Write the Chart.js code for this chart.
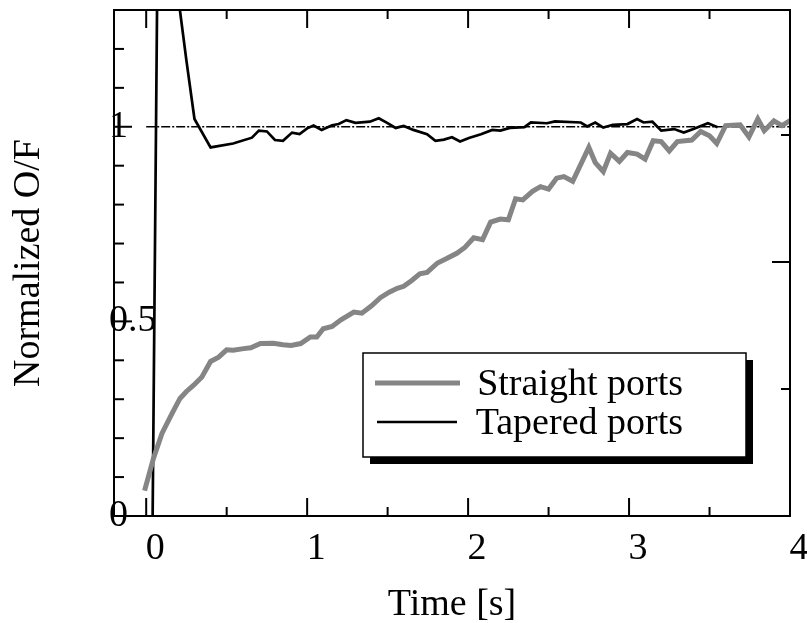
<!doctype html>
<html>
<head>
<meta charset="utf-8">
<title>Normalized O/F</title>
<script src="https://cdn.jsdelivr.net/npm/chart.js@4.4.1/dist/chart.umd.min.js"></script>
<style>
  body { margin: 0; background: #fff; }
  #wrap { width: 807px; height: 623px; }
</style>
</head>
<body>
<div id="wrap"><canvas id="canvas" width="807" height="623"></canvas></div>
<script>
// straight ports (grey, thick)
var straightTime = [-0.01, 0.045, 0.098, 0.16, 0.21, 0.25, 0.295, 0.346, 0.40, 0.45, 0.50, 0.54, 0.605, 0.65, 0.71,
  0.79, 0.85, 0.90, 0.96, 1.02, 1.06, 1.10, 1.155, 1.21, 1.29, 1.34, 1.40, 1.455, 1.51, 1.56, 1.60, 1.65, 1.70, 1.745,
  1.81, 1.87, 1.93, 1.98, 2.035, 2.09, 2.14, 2.20, 2.25, 2.295, 2.34, 2.40, 2.45, 2.50, 2.55, 2.595, 2.65, 2.75, 2.79,
  2.84, 2.885, 2.94, 2.99, 3.05, 3.10, 3.15, 3.20, 3.25, 3.30, 3.39, 3.445, 3.50, 3.545, 3.60, 3.69, 3.745, 3.80, 3.84,
  3.90, 3.95, 4.005];
var straightOF = [0.065, 0.148, 0.212, 0.263, 0.302, 0.32, 0.336, 0.357, 0.397, 0.408, 0.427, 0.426, 0.43, 0.432, 0.443,
  0.444, 0.44, 0.438, 0.443, 0.46, 0.46, 0.481, 0.487, 0.504, 0.524, 0.521, 0.54, 0.561, 0.575, 0.585, 0.59, 0.605, 0.622, 0.626,
  0.65, 0.662, 0.675, 0.69, 0.715, 0.71, 0.755, 0.763, 0.761, 0.815, 0.812, 0.834, 0.846, 0.84, 0.868, 0.872, 0.86, 0.947, 0.908,
  0.885, 0.932, 0.911, 0.934, 0.93, 0.917, 0.964, 0.962, 0.938, 0.962, 0.966, 0.988, 0.977, 0.957, 1.003, 1.005, 0.974, 1.02, 0.99,
  1.015, 1.003, 1.017];

// tapered ports (black, thin)
var taperedTime = [0.04, 0.08, 0.15, 0.20, 0.25, 0.30, 0.40, 0.54, 0.657, 0.70, 0.75, 0.80, 0.85, 0.906, 0.953, 1.00,
  1.04, 1.09, 1.155, 1.196, 1.244, 1.30, 1.39, 1.445, 1.497, 1.55, 1.60, 1.66, 1.745, 1.797, 1.85, 1.90, 1.95, 2.005,
  2.08, 2.15, 2.20, 2.26, 2.35, 2.39, 2.49, 2.54, 2.70, 2.74, 2.79, 2.84, 2.90, 2.99, 3.05, 3.09, 3.145, 3.20, 3.28,
  3.34, 3.40, 3.49, 3.55];
var taperedOF = [0, 1.9, 1.6, 1.33, 1.17, 1.02, 0.947, 0.957, 0.972, 0.99, 0.988, 0.966, 0.964, 0.985, 0.981, 0.996,
  1.003, 0.992, 1.004, 1.007, 1.017, 1.01, 1.013, 1.022, 1.01, 0.997, 1.002, 0.992, 0.981, 0.964, 0.967, 0.973, 0.962, 0.971,
  0.981, 0.992, 0.99, 0.997, 0.999, 1.011, 1.009, 1.014, 1.011, 1.001, 1.011, 0.998, 1.005, 1.007, 1.02, 1.011, 1.013, 0.99, 0.994,
  0.985, 0.994, 1.009, 0.999];

// reference line O/F = 1
var refTime = [0, 4];
var refOF = [1, 1];

var seriesLabels = ['Straight ports', 'Tapered ports'];

var xTickLabels = [0, 1, 2, 3, 4];
var xMinorTicks = [0.5, 1.5, 2.5, 3.5];
var yTickLabels = [0, 0.5, 1];
var yMinorTicks = [0.1, 0.2, 0.3, 0.4, 0.6, 0.7, 0.8, 0.9, 1.1, 1.2];
var rightMajorTicks = [0, 1];
var rightMinorTicks = [0.5, 1.5];

function pairs(xs, ys) {
  return xs.map(function (x, i) { return { x: x, y: ys[i] }; });
}

var FONT = '"Liberation Serif", "Times New Roman", serif';
Chart.defaults.font.family = FONT;
Chart.defaults.color = '#000';

// frame and inward ticks on all four sides
var frameTicks = {
  id: 'frameTicks',
  afterDatasetsDraw: function (chart) {
    var a = chart.chartArea, ctx = chart.ctx;
    var sx = chart.scales.x, sy = chart.scales.y, sy2 = chart.scales.y2;
    ctx.save();
    ctx.strokeStyle = '#000';
    ctx.lineWidth = 2;
    ctx.strokeRect(a.left, a.top, a.right - a.left, a.bottom - a.top);
    function seg(x1, y1, x2, y2) {
      ctx.beginPath(); ctx.moveTo(x1, y1); ctx.lineTo(x2, y2); ctx.stroke();
    }
    function xt(list, len) {
      list.forEach(function (v) {
        var p = sx.getPixelForValue(v);
        seg(p, a.bottom, p, a.bottom - len);
        seg(p, a.top, p, a.top + len);
      });
    }
    xt(xTickLabels, 18);
    xt(xMinorTicks, 9);
    yTickLabels.forEach(function (v) { var p = sy.getPixelForValue(v); seg(a.left, p, a.left + 18, p); });
    yMinorTicks.forEach(function (v) { var p = sy.getPixelForValue(v); seg(a.left, p, a.left + 10, p); });
    rightMajorTicks.forEach(function (v) { var p = sy2.getPixelForValue(v); seg(a.right, p, a.right - 18, p); });
    rightMinorTicks.forEach(function (v) { var p = sy2.getPixelForValue(v); seg(a.right, p, a.right - 9, p); });
    ctx.restore();
  }
};

// boxed legend with drop shadow
var boxLegend = {
  id: 'boxLegend',
  afterDraw: function (chart) {
    var ctx = chart.ctx, ds = chart.data.datasets;
    var bx = 363, by = 353, bw = 383, bh = 104;
    ctx.save();
    ctx.fillStyle = '#000';
    ctx.fillRect(bx + 7, by + 7, bw, bh);
    ctx.fillStyle = '#fff';
    ctx.fillRect(bx, by, bw, bh);
    ctx.strokeStyle = '#000';
    ctx.lineWidth = 1.5;
    ctx.strokeRect(bx, by, bw, bh);
    ctx.font = '38px ' + FONT;
    ctx.textAlign = 'right';
    ctx.textBaseline = 'alphabetic';
    var rows = [{ y: 383, base: 395, x1: 375, x2: 460 }, { y: 422, base: 434, x1: 377, x2: 457 }];
    rows.forEach(function (r, i) {
      ctx.strokeStyle = ds[i].borderColor;
      ctx.lineWidth = ds[i].borderWidth;
      ctx.beginPath(); ctx.moveTo(r.x1, r.y); ctx.lineTo(r.x2, r.y); ctx.stroke();
      ctx.fillStyle = '#000';
      ctx.fillText(ds[i].label, 683, r.base);
    });
    ctx.restore();
  }
};

new Chart(document.getElementById('canvas').getContext('2d'), {
  type: 'line',
  data: {
    datasets: [{
      label: seriesLabels[0],
      data: pairs(straightTime, straightOF),
      borderColor: '#858585',
      borderWidth: 5,
      pointRadius: 0,
      tension: 0
    }, {
      label: seriesLabels[1],
      data: pairs(taperedTime, taperedOF),
      borderColor: '#000',
      borderWidth: 2.7,
      pointRadius: 0,
      tension: 0
    }, {
      label: 'ref',
      data: pairs(refTime, refOF),
      borderColor: '#000',
      borderWidth: 1.5,
      borderDash: [9, 2, 2, 2],
      pointRadius: 0
    }]
  },
  options: {
    responsive: false,
    animation: false,
    layout: { padding: { top: 10, right: 17, bottom: 0, left: 0 } },
    plugins: { legend: { display: false }, tooltip: { enabled: false } },
    scales: {
      x: {
        type: 'linear',
        min: -0.2,
        max: 4,
        afterBuildTicks: function (s) { s.ticks = xTickLabels.map(function (v) { return { value: v }; }); },
        afterFit: function (s) { s.height = 107; s.paddingLeft = 0; s.paddingRight = 0; },
        grid: { display: false, drawTicks: false },
        border: { display: false },
        ticks: {
          font: { size: 38 },
          padding: 10,
          labelOffset: 9,
          maxRotation: 0,
          autoSkip: false,
          callback: function (v) { return String(v); }
        },
        title: {
          display: true,
          text: 'Time [s]',
          font: { size: 38 },
          padding: { top: 0, bottom: -5 }
        }
      },
      y: {
        min: 0,
        max: 1.3,
        afterBuildTicks: function (s) { s.ticks = yTickLabels.map(function (v) { return { value: v }; }); },
        afterFit: function (s) { s.width = 114; s.paddingTop = 0; s.paddingBottom = 0; },
        grid: { display: false, drawTicks: false },
        border: { display: false },
        ticks: {
          font: { size: 38 },
          mirror: true,
          padding: -5,
          autoSkip: false,
          callback: function (v) { return String(v); }
        },
        title: {
          display: true,
          text: 'Normalized O/F',
          font: { size: 38 },
          padding: { top: 6, bottom: 0 }
        }
      },
      y2: {
        position: 'right',
        display: false,
        min: 0,
        max: 1.992
      }
    }
  },
  plugins: [frameTicks, boxLegend]
});
</script>
</body>
</html>
